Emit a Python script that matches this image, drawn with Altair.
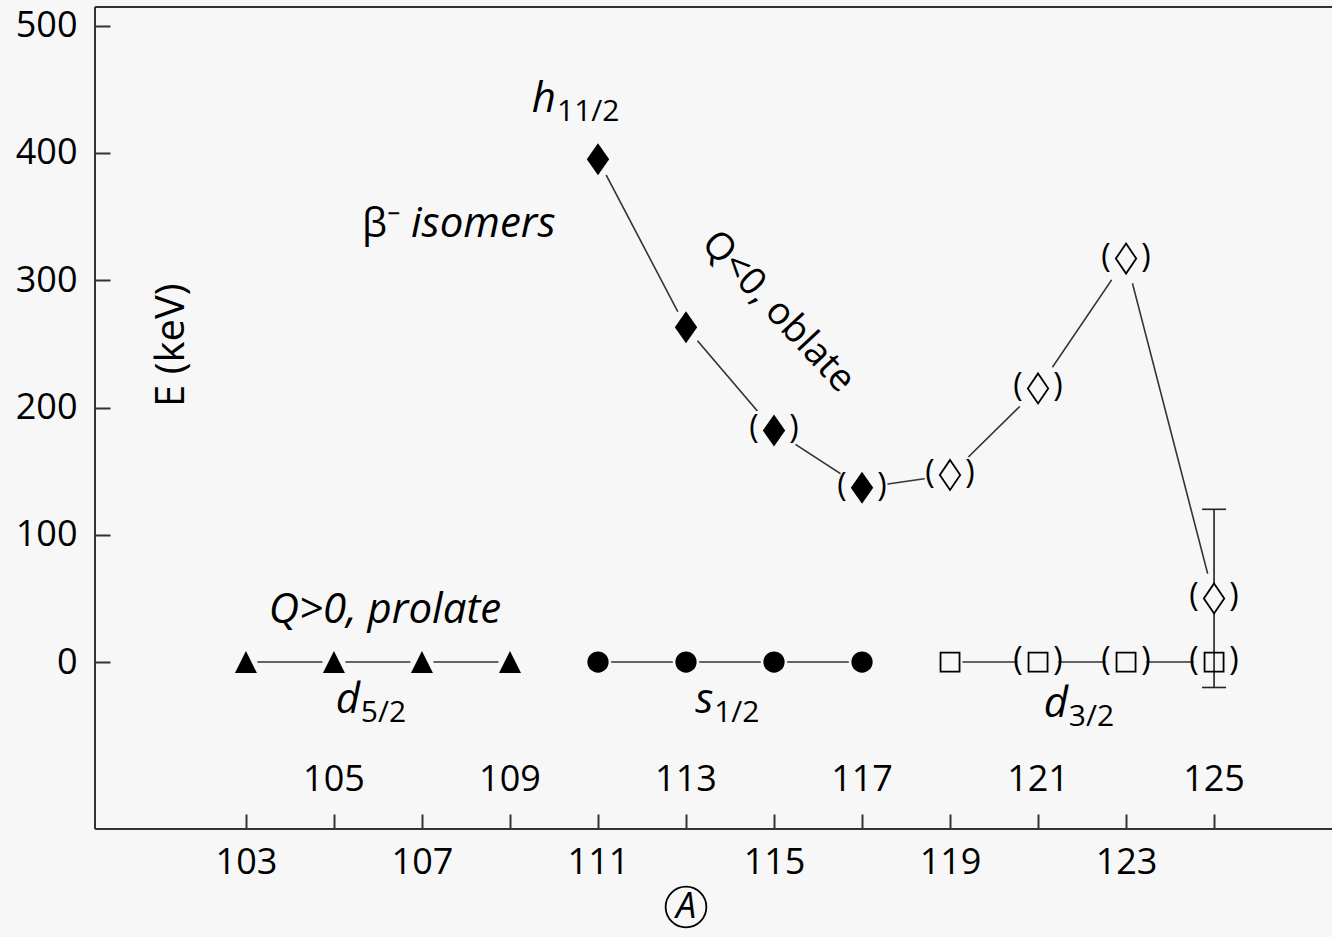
import altair as alt
import pandas as pd

# ---------------- data ----------------
A_d52 = [103, 105, 107, 109]
E_d52 = [0, 0, 0, 0]
A_s12 = [111, 113, 115, 117]
E_s12 = [0, 0, 0, 0]
A_d32 = [119, 121, 123, 125]
E_d32 = [0, 0, 0, 0]
tent_d32 = [False, True, True, True]
A_h112 = [111, 113, 115, 117, 119, 121, 123, 125]
E_h112 = [395, 263, 182, 137, 147, 215, 317, 50]
tent_h112 = [False, False, True, True, True, True, True, True]
firm_h112 = [True, True, True, True, False, False, False, False]
err_A = [125]
err_lo = [-20]
err_hi = [120]

x_ticks = [103, 105, 107, 109, 111, 113, 115, 117, 119, 121, 123, 125]
x_labels_inner = [105, 109, 113, 117, 121, 125]
y_ticks = [0, 100, 200, 300, 400, 500]

FONT = "Open Sans"
BG = "#f7f7f7"
W, H = 1237, 822
XDOM = [99.57, 127.68]
YDOM = [-131.2, 514.7]

rows = []
for a, e in zip(A_d52, E_d52):
    rows.append(dict(series="d52", kind="tri", A=a, E=e, paren=False))
for a, e in zip(A_s12, E_s12):
    rows.append(dict(series="s12", kind="circ", A=a, E=e, paren=False))
for a, e, t in zip(A_d32, E_d32, tent_d32):
    rows.append(dict(series="d32", kind="sq", A=a, E=e, paren=t))
for a, e, t, f in zip(A_h112, E_h112, tent_h112, firm_h112):
    rows.append(dict(series="h112", kind="dfill" if f else "dopen", A=a, E=e, paren=t))
df = pd.DataFrame(rows)

halo_base = {"tri": 13, "circ": 15, "sq": 14, "dfill": 20, "dopen": 20}
df["halo"] = [3.1416 * ((halo_base[k] + (9 if p else 0)) ** 2) for k, p in zip(df["kind"], df["paren"])]

xs = alt.Scale(domain=XDOM, nice=False, zero=False)
ys = alt.Scale(domain=YDOM, nice=False, zero=False)

x_axis = alt.Axis(
    values=x_ticks, labelExpr="(datum.value - 103) % 4 == 0 ? datum.label : ''",
    offset=-15, tickSize=15, tickWidth=2, tickColor="#333", domain=False, grid=False,
    labelFont=FONT, labelFontSize=36, labelColor="black", labelPadding=16, labelFlush=False,
    labelOverlap=False, title=None)
y_axis = alt.Axis(
    values=y_ticks, offset=-15, tickSize=15, tickWidth=2, tickColor="#333", domain=False,
    grid=False, labelFont=FONT, labelFontSize=36, labelColor="black", labelPadding=18,
    labelFlush=False, title=None)


def X(f="A"):
    return alt.X(f"{f}:Q", scale=xs, axis=x_axis, title=None)


def Y(f="E"):
    return alt.Y(f"{f}:Q", scale=ys, axis=y_axis, title=None)


base = alt.Chart(df)

lines = base.mark_line(color="#333", strokeWidth=1.6).encode(
    x=X(), y=Y(), detail="series:N", order="A:Q")

halos = base.mark_point(shape="circle", filled=True, color=BG, opacity=1, strokeWidth=0).encode(
    x=X(), y=Y(), size=alt.Size("halo:Q", scale=None))

err_df = pd.DataFrame({"A": err_A, "lo": err_lo, "hi": err_hi})
err_rule = alt.Chart(err_df).mark_rule(color="#222", strokeWidth=1.6).encode(
    x=X(), y=Y("lo"), y2="hi:Q")
caps_df = pd.DataFrame({"A": err_A * 2, "E": err_lo + err_hi})
err_caps = alt.Chart(caps_df).mark_tick(orient="horizontal", color="#222", size=24, thickness=1.6, opacity=1).encode(
    x=X(), y=Y())

tri = base.transform_filter("datum.kind == 'tri'").mark_point(
    shape="M0,-1L1,1L-1,1Z", filled=True, color="black", opacity=1, size=484).encode(x=X(), y=Y())
circ = base.transform_filter("datum.kind == 'circ'").mark_point(
    shape="circle", filled=True, color="black", opacity=1, size=452).encode(x=X(), y=Y())
dfill = base.transform_filter("datum.kind == 'dfill'").mark_point(
    shape="M0,-1L0.7,0L0,1L-0.7,0Z", filled=True, color="black", opacity=1, size=1024).encode(x=X(), y=Y())
dopen = base.transform_filter("datum.kind == 'dopen'").mark_point(
    shape="M0,-1L0.68,0L0,1L-0.68,0Z", filled=True, fill=BG, stroke="black", strokeWidth=1.8,
    opacity=1, size=900).encode(x=X(), y=Y())
sq = base.transform_filter("datum.kind == 'sq'").mark_point(
    shape="square", filled=False, color="black", strokeWidth=1.8, opacity=1, size=361).encode(x=X(), y=Y())

par = base.transform_filter("datum.paren")
lpar = par.mark_text(text="(", font=FONT, fontSize=32, dx=-20, dy=-2, baseline="middle", color="black").encode(x=X(), y=Y())
rpar = par.mark_text(text=")", font=FONT, fontSize=32, dx=20, dy=-2, baseline="middle", color="black").encode(x=X(), y=Y())

# inner tick labels
inner_df = pd.DataFrame({"A": x_labels_inner, "E": [-93] * len(x_labels_inner)})
inner = alt.Chart(inner_df).mark_text(font=FONT, fontSize=36, baseline="middle", color="black").encode(
    x=X(), y=Y(), text=alt.Text("A:Q", format="d"))


def txt(t, a, e, **kw):
    d = pd.DataFrame({"A": [a], "E": [e], "t": [t]})
    opts = dict(font=FONT, color="black")
    opts.update(kw)
    return alt.Chart(d).mark_text(**opts).encode(x=X(), y=Y(), text="t:N")


ann = [
    txt("Q>0, prolate", 106.16, 30.6, fontSize=42, fontStyle="italic", align="center", baseline="alphabetic"),
    txt("β⁻", 105.64, 334, fontSize=40, align="left", baseline="alphabetic"),
    txt("isomers", 106.75, 334, fontSize=42, fontStyle="italic", align="left", baseline="alphabetic"),
    txt("Q<0, oblate", 115.09, 275, fontSize=38, angle=47, align="center", baseline="middle"),
    txt("E (keV)", 101.32, 249, fontSize=40, angle=270, align="center", baseline="middle"),
    txt("h", 110.045, 432.2, fontSize=42, fontStyle="italic", align="right", baseline="alphabetic"),
    txt("11/2", 110.07, 425.1, fontSize=30, align="left", baseline="alphabetic"),
    txt("d", 105.59, -40.1, fontSize=42, fontStyle="italic", align="right", baseline="alphabetic"),
    txt("5/2", 105.61, -47.2, fontSize=30, align="left", baseline="alphabetic"),
    txt("s", 113.62, -40.1, fontSize=42, fontStyle="italic", align="right", baseline="alphabetic"),
    txt("1/2", 113.64, -47.2, fontSize=30, align="left", baseline="alphabetic"),
    txt("d", 121.68, -43.5, fontSize=42, fontStyle="italic", align="right", baseline="alphabetic"),
    txt("3/2", 121.70, -50.5, fontSize=30, align="left", baseline="alphabetic"),
    txt("A", 113.0, -192.5, fontSize=36, fontStyle="italic", align="center", baseline="middle"),
]
circA = alt.Chart(pd.DataFrame({"A": [113.0], "E": [-192.5]})).mark_point(
    shape="circle", filled=False, color="black", strokeWidth=1.8, opacity=1, size=1660).encode(x=X(), y=Y())

one = pd.DataFrame({"k": [0]})
frame = [
    alt.Chart(one).mark_rule(color="#333", strokeWidth=2).encode(x=alt.value(0), x2=alt.value(W), y=alt.value(0)),
    alt.Chart(one).mark_rule(color="#333", strokeWidth=2).encode(x=alt.value(0), x2=alt.value(W), y=alt.value(H)),
    alt.Chart(one).mark_rule(color="#333", strokeWidth=2).encode(x=alt.value(0), y=alt.value(0), y2=alt.value(H)),
]

chart = alt.layer(
    lines, halos, err_rule, err_caps, tri, circ, dfill, dopen, sq, lpar, rpar, inner, *ann, circA, *frame
).properties(
    width=W, height=H,
    autosize=alt.AutoSizeParams(type="none"),
    padding={"left": 95, "top": 7, "right": 0, "bottom": 108},
    background=BG,
).configure_view(stroke=None)

chart.save("out.html", embed_options={"renderer": "svg", "actions": False})
